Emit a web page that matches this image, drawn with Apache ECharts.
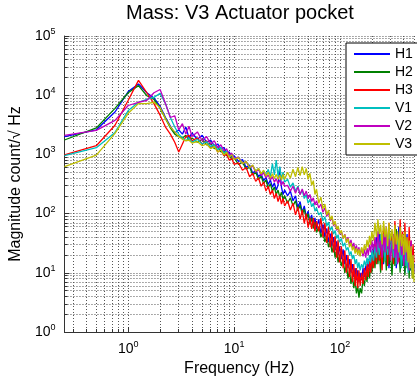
<!DOCTYPE html>
<html>
<head>
<meta charset="utf-8">
<script src="https://cdn.jsdelivr.net/npm/echarts@6/dist/echarts.min.js"></script>
<style>
  html, body { margin: 0; padding: 0; background: #fff; }
  #chart { width: 417px; height: 385px; }
</style>
</head>
<body>
<div id="chart"></div>
<script>
const FONT = '"Liberation Sans", Arial, Helvetica, sans-serif';

// Frequency bins (Hz), shared by all six sensor channels
const freqHz = [
  0.25, 0.5, 0.75, 1, 1.25, 1.5, 1.75, 2, 2.25, 2.5, 2.75, 3, 3.25, 3.5, 3.75, 4,
  4.5, 5, 5.5, 6, 6.5, 7, 7.5, 8, 8.5, 9, 9.5, 10,
  11, 12, 13, 14, 15, 16, 17, 18, 19, 20, 21, 22, 23, 24, 25, 26, 27, 28, 29, 30,
  32, 34, 36, 38, 40, 42, 44, 46, 48, 50, 52, 54, 56, 58, 60,
  63, 66, 69, 72, 75, 78, 81, 84, 87, 90, 93, 96, 99,
  103, 107, 111, 115, 119, 123, 127, 131, 135, 139, 143, 147, 151, 155, 160, 165, 170, 175, 180, 185, 190, 195, 200,
  207, 214, 221, 228, 235, 242, 250, 258, 266, 274, 282, 290, 300, 310, 320, 330, 340, 350, 360, 370, 380, 390, 400, 410, 420, 430, 440, 450, 460, 470, 480, 490, 500
];

// Magnitude spectra, count/sqrt(Hz)
const magH1 = [
  2000, 2600, 5200, 11500, 15500, 11000, 9000, 6500, 4200, 3000, 2300, 2600, 2200, 2900, 1900, 2300,
  1800, 2100, 1600, 1750, 1400, 1500, 1250, 1300, 1050, 1100, 900, 950,
  760, 820, 600, 660, 480, 540, 420, 470, 360, 410, 310, 370, 280, 330, 250, 300, 600, 280, 210, 250,
  200, 240, 165, 200, 125, 160, 105, 135, 88, 110, 75, 95, 64, 85, 56,
  80, 46, 66, 40, 56, 33, 46, 28, 40, 24, 34, 20, 28,
  17, 25, 14, 20, 12, 17, 10, 14, 8.5, 12, 7.5, 11, 7, 10, 7.5, 12, 8.5, 14, 9.5, 17, 11, 20, 13,
  30, 15, 40, 18, 55, 20, 35, 14, 45, 18, 30, 12, 25, 50, 15, 35, 12, 28, 60, 18, 40, 14, 30, 10, 25, 45, 15, 30, 11, 22, 9, 18, 12
];
const magH2 = [
  1750, 2800, 6000, 11000, 14500, 9800, 8500, 6000, 4000, 2800, 2200, 2000, 1900, 2100, 1700, 1900,
  1600, 1800, 1450, 1550, 1250, 1350, 1100, 1150, 950, 1000, 820, 870,
  680, 740, 560, 610, 450, 500, 380, 430, 320, 370, 270, 320, 240, 280, 210, 250, 190, 230, 170, 200,
  150, 185, 135, 165, 110, 140, 95, 120, 80, 100, 66, 85, 56, 72, 48,
  60, 40, 50, 33, 42, 27, 35, 22, 29, 18, 24, 15, 20,
  13, 17, 10, 14, 8, 11, 6.5, 9, 5.5, 7.5, 4.5, 6, 3.8, 5.5, 4.5, 8, 6, 10, 7, 12, 8, 14, 10,
  22, 12, 30, 14, 25, 10, 45, 15, 28, 11, 35, 14, 20, 9, 30, 13, 55, 16, 25, 10, 32, 13, 22, 9, 40, 12, 20, 8, 26, 11, 18, 8, 14
];
const magH3 = [
  980, 1400, 3100, 8200, 17800, 11000, 7200, 4600, 2900, 2200, 1600, 1100, 1500, 2000, 2100, 1700,
  1900, 1500, 1700, 1300, 1450, 1100, 1200, 950, 1000, 800, 850, 680,
  720, 540, 600, 420, 480, 350, 400, 290, 340, 240, 290, 210, 250, 180, 220, 160, 200, 145, 180, 135,
  165, 115, 150, 95, 130, 80, 115, 68, 100, 58, 85, 55, 85, 50, 75,
  50, 85, 40, 70, 32, 60, 27, 50, 22, 42, 18, 36, 15,
  28, 12, 24, 10, 20, 8.5, 17, 7, 14, 6, 12, 5.5, 11, 6, 10, 6.5, 12, 7.5, 14, 8.5, 16, 10, 18,
  12, 35, 14, 45, 16, 28, 11, 60, 18, 35, 13, 70, 20, 40, 14, 75, 22, 45, 15, 80, 25, 50, 16, 70, 20, 40, 13, 60, 18, 35, 12, 30, 15
];
const magV1 = [
  950, 1300, 2350, 5500, 7600, 8500, 9200, 10800, 7200, 4200, 2900, 2200, 1900, 1700, 1900, 1600,
  1800, 1500, 1650, 1350, 1450, 1200, 1300, 1050, 1150, 920, 1000, 850,
  900, 700, 760, 600, 650, 520, 580, 460, 520, 430, 560, 420, 700, 450, 800, 430, 620, 380, 500, 340,
  380, 280, 330, 240, 290, 210, 250, 180, 210, 150, 175, 130, 150, 110, 125,
  95, 105, 75, 88, 62, 72, 52, 60, 45, 52, 38, 44, 33,
  38, 28, 32, 24, 27, 20, 23, 17, 20, 14, 17, 12, 15, 11, 14, 12, 16, 13, 18, 14, 20, 15, 24,
  16, 28, 18, 35, 20, 45, 22, 30, 16, 40, 20, 55, 22, 35, 18, 28, 14, 40, 18, 30, 12, 25, 15, 35, 13, 22, 10, 28, 12, 20, 9, 16, 10
];
const magV2 = [
  2100, 2550, 3760, 6700, 7600, 8200, 11000, 12500, 7200, 4200, 4500, 2600, 3300, 2200, 3000, 2000,
  2400, 1700, 2000, 1500, 1700, 1300, 1450, 1150, 1250, 980, 1050, 850,
  900, 700, 760, 600, 640, 500, 560, 440, 490, 400, 450, 370, 420, 340, 390, 320, 370, 300, 350, 290,
  300, 240, 290, 220, 280, 210, 260, 200, 240, 180, 210, 160, 185, 140, 165,
  125, 145, 105, 125, 90, 105, 75, 88, 62, 72, 52, 60, 45,
  50, 38, 45, 34, 40, 30, 36, 27, 32, 24, 29, 22, 27, 20, 26, 19, 25, 18, 26, 20, 30, 22, 35,
  24, 40, 22, 50, 26, 35, 18, 45, 22, 60, 25, 38, 16, 30, 45, 18, 35, 14, 28, 50, 20, 32, 13, 25, 40, 16, 28, 11, 22, 35, 12, 20, 10
];
const magV3 = [
  620, 970, 2260, 4950, 7200, 7200, 7600, 6200, 4000, 2900, 2400, 2000, 1800, 1700, 1750, 1550,
  1650, 1400, 1500, 1250, 1350, 1100, 1200, 980, 1080, 900, 980, 820,
  880, 700, 760, 600, 660, 520, 580, 470, 540, 430, 500, 400, 470, 390, 460, 380, 450, 370, 460, 380,
  500, 400, 560, 420, 600, 440, 620, 450, 580, 380, 480, 300, 360, 210, 260,
  150, 190, 120, 145, 95, 115, 78, 92, 64, 75, 54, 62, 46,
  52, 38, 44, 32, 38, 27, 32, 24, 28, 21, 26, 20, 25, 19, 27, 21, 30, 24, 36, 27, 42, 30, 50,
  35, 70, 40, 80, 45, 65, 30, 75, 40, 60, 28, 70, 35, 55, 25, 65, 30, 50, 22, 60, 28, 45, 20, 50, 22, 40, 15, 35, 12, 28, 8, 20, 7
];

const channelNames = ['H1', 'H2', 'H3', 'V1', 'V2', 'V3'];
const channelColors = ['#0000ff', '#008000', '#ff0000', '#00bfbf', '#bf00bf', '#bfbf00'];
const channelValues = [magH1, magH2, magH3, magV1, magV2, magV3];

// Powers of ten as "10" with a raised exponent; other ticks stay blank
function decadeLabel(v) {
  const e = Math.round(Math.log10(v));
  if (Math.abs(v / Math.pow(10, e) - 1) > 1e-6) return '';
  return '{b|10}{s|' + e + '}';
}
const labelRich = {
  b: { fontSize: 14, color: '#000', fontFamily: FONT, lineHeight: 18 },
  s: { fontSize: 9, color: '#000', fontFamily: FONT, lineHeight: 10, verticalAlign: 'top' }
};
const dotted = { color: '#555', width: 1, type: [1, 2] };
const axisInk = { color: '#333', width: 1 };

function logAxis(extra) {
  return Object.assign({
    type: 'log',
    logBase: 10,
    nameLocation: 'middle',
    nameTextStyle: { fontSize: 16, color: '#000', fontFamily: FONT },
    axisLine: { show: true, onZero: false, lineStyle: axisInk },
    axisTick: { show: true, inside: true, length: 5, lineStyle: axisInk },
    minorTick: { show: true, splitNumber: 9, length: 3, lineStyle: axisInk },
    splitLine: { show: true, lineStyle: dotted },
    minorSplitLine: { show: true, lineStyle: dotted }
  }, extra);
}

const chart = echarts.init(document.getElementById('chart'), null, { renderer: 'canvas' });
chart.setOption({
  animation: false,
  backgroundColor: '#fff',
  textStyle: { fontFamily: FONT },
  title: {
    text: 'Mass: V3 Actuator pocket',
    left: 126,
    top: 3,
    padding: 0,
    textStyle: { fontSize: 20, fontWeight: 'normal', color: '#000', fontFamily: FONT }
  },
  grid: { left: 63, right: -3, top: 36, bottom: 53, containLabel: false },
  legend: {
    orient: 'vertical',
    left: 346,
    top: 43,
    itemWidth: 36,
    itemHeight: 14,
    itemGap: 4,
    padding: [4, 14, 4, 7],
    borderColor: '#000',
    borderWidth: 1,
    backgroundColor: '#fff',
    itemStyle: { opacity: 0 },
    lineStyle: { width: 2 },
    textStyle: { fontSize: 14, color: '#000', fontFamily: FONT },
    data: channelNames
  },
  xAxis: logAxis({
    min: 0.25,
    max: 500,
    name: 'Frequency (Hz)',
    nameGap: 25,
    axisLabel: { formatter: decadeLabel, rich: labelRich, margin: 8 }
  }),
  yAxis: logAxis({
    min: 1,
    max: 100000,
    name: 'Magnitude count/\u221A Hz',
    nameGap: 36,
    axisLabel: { formatter: decadeLabel, rich: labelRich, margin: 9 }
  }),
  series: channelNames.map((name, i) => ({
    name: name,
    type: 'line',
    symbol: 'none',
    clip: true,
    z: 2 + i,
    lineStyle: { width: 1.3, color: channelColors[i] },
    itemStyle: { color: channelColors[i] },
    data: freqHz.map((f, j) => [f, channelValues[i][j]])
  }))
});
</script>
</body>
</html>
